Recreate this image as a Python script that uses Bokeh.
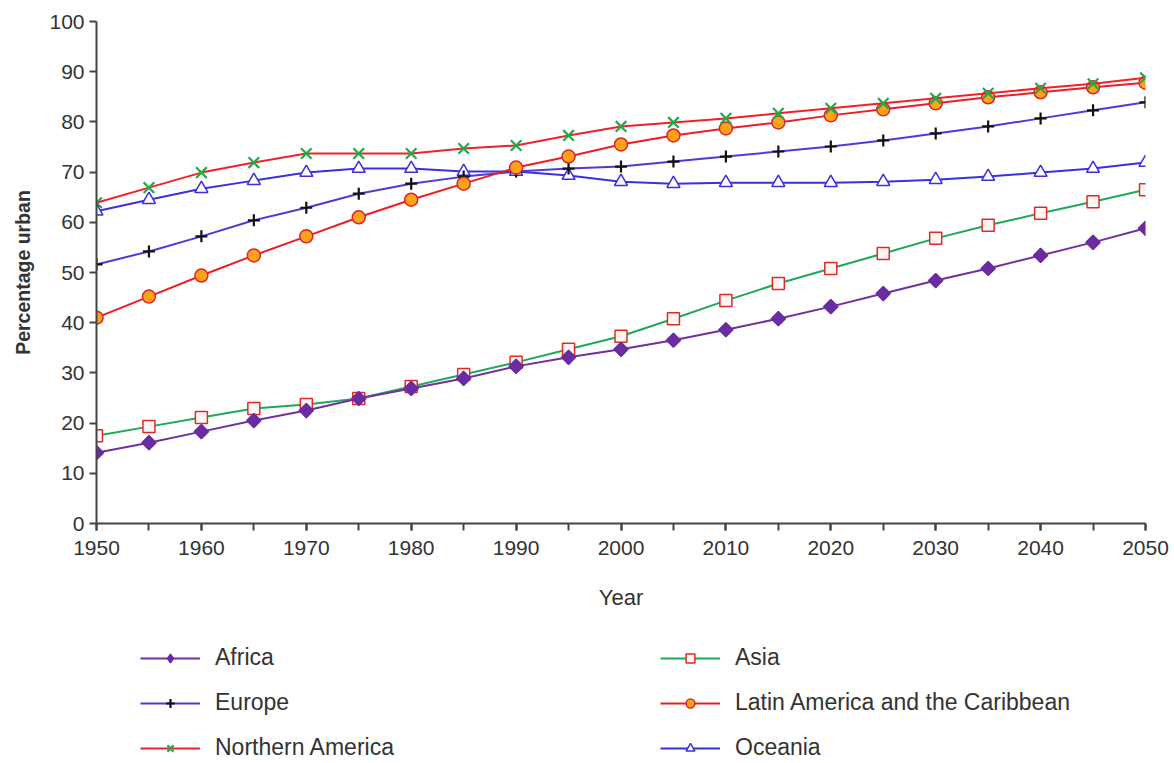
from bokeh.plotting import figure
from bokeh.models import Range1d, SingleIntervalTicker, Legend, LegendItem
from bokeh.layouts import column
from bokeh.embed import file_html
from bokeh.resources import INLINE
import math

years = list(range(1950, 2051, 5))

africa = [14.1, 16.1, 18.3, 20.5, 22.5, 24.9, 26.9, 28.9, 31.3, 33.1, 34.7,
          36.5, 38.6, 40.8, 43.2, 45.8, 48.4, 50.8, 53.4, 56.0, 58.8]
asia = [17.5, 19.3, 21.1, 22.9, 23.7, 24.9, 27.3, 29.7, 32.1, 34.7, 37.3,
        40.8, 44.4, 47.8, 50.8, 53.8, 56.8, 59.4, 61.8, 64.1, 66.5]
europe = [51.6, 54.2, 57.2, 60.4, 62.9, 65.7, 67.7, 69.1, 70.1, 70.7, 71.1,
          72.1, 73.1, 74.1, 75.1, 76.3, 77.7, 79.1, 80.7, 82.3, 83.9]
latam = [41.0, 45.2, 49.4, 53.4, 57.2, 61.0, 64.5, 67.7, 70.9, 73.1, 75.5,
         77.3, 78.7, 79.9, 81.3, 82.5, 83.7, 84.9, 85.9, 86.9, 87.8]
n_america = [63.9, 66.9, 69.9, 71.9, 73.7, 73.7, 73.7, 74.7, 75.3, 77.3, 79.1,
             79.9, 80.7, 81.7, 82.7, 83.7, 84.7, 85.7, 86.7, 87.6, 88.8]
oceania = [62.2, 64.5, 66.7, 68.3, 69.9, 70.7, 70.7, 70.1, 70.1, 69.3, 68.1,
           67.7, 67.9, 67.9, 67.9, 68.1, 68.5, 69.1, 69.9, 70.7, 71.9]

legend_col1 = ["Africa", "Europe", "Northern America"]
legend_col2 = ["Asia", "Latin America and the Caribbean", "Oceania"]

FONT = "Liberation Sans"
TXT = "#333333"

styles = {
    "Africa": dict(line="#7030a0", marker="square", size=10, angle=math.pi / 4,
                   mline="#6a2ca0", mfill="#6a2ca0"),
    "Asia": dict(line="#1fa85a", marker="square", size=12, angle=0,
                 mline="#e02a2a", mfill="#fff6f4"),
    "Europe": dict(line="#4b3cd8", marker="cross", size=12, angle=0,
                   mline="#111111", mfill=None),
    "Latin America and the Caribbean": dict(line="#ee1c25", marker="circle", size=13, angle=0,
                                            mline="#d8262a", mfill="#ffa21a"),
    "Northern America": dict(line="#ee2228", marker="x", size=15, angle=0,
                             mline="#22aa4a", mfill=None),
    "Oceania": dict(line="#3b2fe0", marker="triangle", size=13, angle=0,
                    mline="#3b2fe0", mfill="#ffffff"),
}
data = {"Africa": africa, "Asia": asia, "Europe": europe,
        "Latin America and the Caribbean": latam,
        "Northern America": n_america, "Oceania": oceania}
draw_order = ["Asia", "Africa", "Oceania", "Europe",
              "Latin America and the Caribbean", "Northern America"]

p = figure(width=1174, height=620, output_backend="svg", toolbar_location=None,
           x_range=Range1d(1950, 2050), y_range=Range1d(0, 100),
           min_border_left=96, min_border_right=29, min_border_top=21,
           min_border_bottom=97)
p.outline_line_color = None
p.xgrid.visible = False
p.ygrid.visible = False

p.xaxis.ticker = SingleIntervalTicker(interval=10, num_minor_ticks=2)
p.yaxis.ticker = SingleIntervalTicker(interval=10, num_minor_ticks=0)
for ax in (p.xaxis[0], p.yaxis[0]):
    ax.axis_line_color = "#444444"
    ax.axis_line_width = 2
    ax.major_tick_line_color = "#444444"
    ax.major_tick_line_width = 2
    ax.minor_tick_line_color = "#444444"
    ax.minor_tick_line_width = 2
    ax.major_tick_in = 0
    ax.major_tick_out = 7
    ax.minor_tick_in = 0
    ax.minor_tick_out = 7
    ax.major_label_text_font = FONT
    ax.major_label_text_color = TXT
    ax.major_label_text_font_size = "21px"
    ax.axis_label_text_font = FONT
    ax.axis_label_text_color = TXT

p.xaxis.major_label_standoff = 10
p.xaxis.axis_label = "Year"
p.xaxis.axis_label_text_font_style = "normal"
p.xaxis.axis_label_text_font_size = "22px"
p.xaxis.axis_label_standoff = 27
p.yaxis.axis_label = "Percentage urban"
p.yaxis.axis_label_text_font_style = "bold"
p.yaxis.axis_label_text_font_size = "19.5px"
p.yaxis.axis_label_standoff = 12


def add_series(fig, xs, ys, st, key=False):
    marker = st["marker"]
    size = st["size"]
    if key and st["angle"] != 0:
        marker, size = "diamond", 14
    r1 = fig.line(xs, ys, line_color=st["line"], line_width=2)
    r2 = fig.scatter(xs, ys, marker=marker, size=size,
                     angle=0 if key else st["angle"],
                     line_color=st["mline"], fill_color=st["mfill"],
                     line_width=2.2 if st["mfill"] is None else 1.5)
    return [r1, r2]


for name in draw_order:
    add_series(p, years, data[name], styles[name])

# legend panel: a second figure whose ranges exclude the data, so only the
# legend keys of its renderers are visible
lf = figure(width=1174, height=143, output_backend="svg", toolbar_location=None,
            x_range=Range1d(0, 1), y_range=Range1d(0, 1),
            min_border_left=0, min_border_right=0, min_border_top=0,
            min_border_bottom=0)
lf.axis.visible = False
lf.grid.visible = False
lf.outline_line_color = None

key_items = {}
for name in data:
    key_items[name] = LegendItem(label=name,
                                 renderers=add_series(lf, years, data[name],
                                                      styles[name], key=True))

for cols, xoff in ((legend_col1, 44), (legend_col2, 564)):
    lg = Legend(items=[key_items[n] for n in cols], orientation="vertical",
                location=(xoff, 2), padding=0, margin=0, spacing=18,
                glyph_width=60, glyph_height=22, label_height=22,
                label_standoff=15, label_text_font=FONT,
                label_text_font_size="23px", label_text_color=TXT,
                border_line_color=None, background_fill_alpha=0)
    lf.add_layout(lg, "center")

layout = column(p, lf, spacing=0)
open("out.html", "w").write(file_html(layout, INLINE))
